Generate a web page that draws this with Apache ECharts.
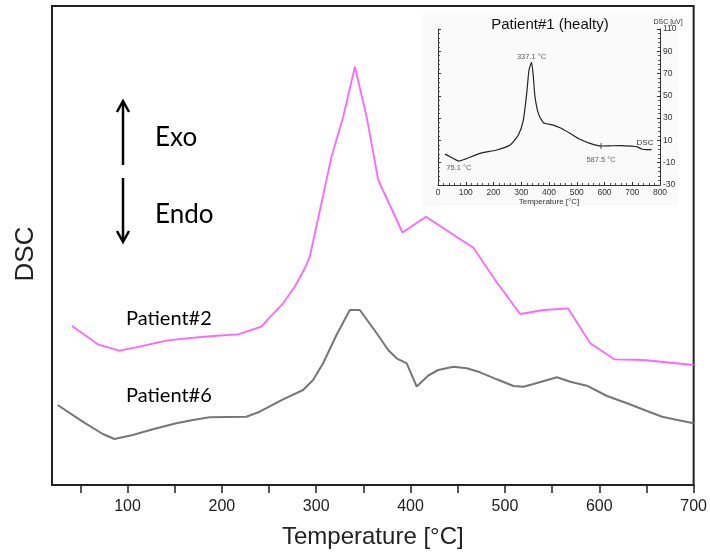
<!DOCTYPE html>
<html>
<head>
<meta charset="utf-8">
<script src="https://cdn.jsdelivr.net/npm/echarts@6/dist/echarts.min.js"></script>
<style>html,body{margin:0;padding:0;background:#fff}#c{width:710px;height:555px}</style>
</head>
<body>
<div id="c"></div>
<script>
// Main chart: Patient#2 (pink) and Patient#6 (gray), arbitrary DSC units
const p2Temp = [41, 68.5, 91.5, 112.7, 141.1, 162.3, 190.6, 217.1, 241.9, 250.7, 264.9, 277.3, 287.9, 293.2, 316.2, 328.6, 341.0, 353.4, 365.7, 391.4, 416.3, 466.6, 489.6, 516.1, 540.9, 566.8, 590.4, 615.9, 647.0, 700];
const p2Val  = [159.3, 140.7, 134.3, 138.3, 144.3, 146.7, 149, 150.7, 158.3, 167.7, 181.7, 198.3, 216.7, 228.3, 328.3, 368.3, 418.3, 368.3, 305, 252.5, 268.3, 237.3, 205, 171, 175, 176.7, 141.7, 125.7, 125, 120];
const p6Temp = [26.0, 52.5, 73.8, 86.2, 105.6, 126.9, 151.7, 169.3, 187.0, 226.0, 240.1, 264.9, 286.1, 296.7, 307.3, 321.5, 335.6, 346.2, 360.4, 376.3, 385.2, 395.9, 406.5, 418.8, 429.4, 445.3, 459.6, 473.7, 491.4, 509.0, 519.6, 530.3, 555.1, 569.2, 586.9, 608.2, 629.4, 650.6, 666.6, 679.0, 700];
const p6Val  = [80, 63.3, 51, 46, 50, 55.7, 61.7, 65, 67.7, 68.3, 73.3, 85.7, 95, 105, 121.7, 150, 175, 175, 156.7, 135, 126.7, 121.7, 98.5, 109.5, 115, 118.3, 116.7, 112.7, 105.7, 99, 98.3, 101, 107.7, 103.3, 99.3, 89, 81.7, 74, 68.3, 65.7, 61.7];
const mainTicks = [50, 100, 150, 200, 250, 300, 350, 400, 450, 500, 550, 600, 650, 700];
const mainLabels = [100, 200, 300, 400, 500, 600, 700];

// Inset: Patient#1 (healty), DSC in uV
const p1Temp = [25, 31, 50, 75.1, 100, 151, 211.5, 259.5, 289.5, 307.5, 319.7, 328, 337.1, 343.5, 349.5, 361.6, 379.6, 415.6, 439.6, 475.7, 511.7, 547.7, 587.5, 620, 660, 700, 716, 734, 750, 770];
const p1Val  = [-2.5, -3, -5.5, -8.5, -6.5, -1.6, 1.4, 5.9, 14.9, 28.3, 52.3, 73.2, 80, 67.2, 49.3, 34.3, 25.9, 23.8, 21.4, 16.4, 11, 7.4, 5, 5.2, 5.4, 4.8, 4.4, 2.3, 1.8, 1.8];
const p1Marks = [[75.1, -8.5], [337.1, 80], [587.5, 5]];
const p1MarkText = ['75.1 °C', '337.1 °C', '587.5 °C'];

const zip = (a, b) => a.map((v, i) => [v, b[i]]);

const chart = echarts.init(document.getElementById('c'), null, {renderer: 'canvas'});
const sans = 'Liberation Sans, Arial, sans-serif';

chart.setOption({
  animation: false,
  backgroundColor: '#fff',
  grid: [
    {left: 52, right: 16, top: 6, bottom: 70, show: true, borderColor: '#222', borderWidth: 2, backgroundColor: 'transparent', z: 2},
    {left: 438, right: 50, top: 29, bottom: 370}
  ],
  xAxis: [
    {
      type: 'value', gridIndex: 0, min: 20, max: 700,
      axisLine: {onZero: false, lineStyle: {color: '#222', width: 2}},
      axisTick: {show: true, customValues: mainTicks, length: 8, lineStyle: {color: '#222', width: 1.5}},
      axisLabel: {customValues: mainLabels, fontSize: 16, color: '#222', fontFamily: sans, margin: 14},
      splitLine: {show: false},
      name: 'Temperature [°C]', nameLocation: 'middle', nameGap: 40,
      nameTextStyle: {fontSize: 24, color: '#222', fontFamily: sans}
    },
    {
      type: 'value', gridIndex: 1, min: 0, max: 800, interval: 100,
      axisLine: {onZero: false, lineStyle: {color: '#333', width: 1}},
      axisTick: {inside: true, length: 3, lineStyle: {color: '#333'}},
      minorTick: {show: true, splitNumber: 5, length: 2, lineStyle: {color: '#555'}},
      axisLabel: {fontSize: 8.5, color: '#333', fontFamily: sans, margin: 3},
      splitLine: {show: false},
      name: 'Temperature [°C]', nameLocation: 'middle', nameGap: 13,
      nameTextStyle: {fontSize: 8, color: '#333', fontFamily: sans}
    }
  ],
  yAxis: [
    {
      type: 'value', gridIndex: 0, min: 0, max: 479,
      axisLine: {show: true, onZero: false, lineStyle: {color: '#222', width: 2}},
      axisTick: {show: false}, axisLabel: {show: false}, splitLine: {show: false}
    },
    {
      type: 'value', gridIndex: 1, position: 'right', min: -30, max: 110, interval: 20,
      axisLine: {show: true, onZero: false, lineStyle: {color: '#333', width: 1}},
      axisTick: {inside: true, length: 3, lineStyle: {color: '#333'}},
      minorTick: {show: true, splitNumber: 5, length: 2, lineStyle: {color: '#555'}},
      axisLabel: {fontSize: 8.5, color: '#333', fontFamily: sans, margin: 3},
      splitLine: {show: false}
    },
    {
      type: 'value', gridIndex: 1, position: 'left', min: -30, max: 110, interval: 20,
      axisLine: {show: true, onZero: false, lineStyle: {color: '#333', width: 1}},
      axisTick: {inside: true, length: 3, lineStyle: {color: '#333'}},
      minorTick: {show: true, splitNumber: 5, length: 2, lineStyle: {color: '#555'}},
      axisLabel: {show: false}, splitLine: {show: false}
    }
  ],
  graphic: [
    {type: 'rect', z: -10, shape: {x: 422, y: 13, width: 256, height: 193}, style: {fill: '#fafafa'}},
    {type: 'text', rotation: Math.PI / 2, x: 26, y: 254, style: {text: 'DSC', x: 0, y: 0, font: '26px "Liberation Sans"', fill: '#222', align: 'center', verticalAlign: 'middle'}},
    {type: 'line', shape: {x1: 123, y1: 165, x2: 123, y2: 103}, style: {stroke: '#000', lineWidth: 2.5}},
    {type: 'polyline', shape: {points: [[117, 112], [123, 101], [129, 112]]}, style: {stroke: '#000', lineWidth: 2.5, fill: null}},
    {type: 'line', shape: {x1: 123, y1: 178, x2: 123, y2: 240}, style: {stroke: '#000', lineWidth: 2.5}},
    {type: 'polyline', shape: {points: [[117, 231], [123, 242], [129, 231]]}, style: {stroke: '#000', lineWidth: 2.5, fill: null}},
    {type: 'text', style: {text: 'Exo', x: 155, y: 138, font: '26px Lato', fill: '#000', verticalAlign: 'middle'}},
    {type: 'text', style: {text: 'Endo', x: 155, y: 215, font: '26px Lato', fill: '#000', verticalAlign: 'middle'}},
    {type: 'text', style: {text: 'Patient#2', x: 126, y: 319, font: '20px Lato', fill: '#000', verticalAlign: 'middle'}},
    {type: 'text', style: {text: 'Patient#6', x: 126, y: 396, font: '20px Lato', fill: '#000', verticalAlign: 'middle'}},
    {type: 'text', style: {text: 'Patient#1 (healty)', x: 550, y: 25, font: '15px "Liberation Sans"', fill: '#111', align: 'center', verticalAlign: 'middle'}},
    {type: 'text', style: {text: 'DSC [uV]', x: 668, y: 22, font: '7px "Liberation Sans"', fill: '#333', align: 'center', verticalAlign: 'middle'}},
    {type: 'text', style: {text: 'DSC', x: 645, y: 143, font: '8px "Liberation Sans"', fill: '#333', align: 'center', verticalAlign: 'middle'}}
  ],
  series: [
    {
      name: 'Patient#2', type: 'line', xAxisIndex: 0, yAxisIndex: 0, data: zip(p2Temp, p2Val),
      showSymbol: false, lineStyle: {color: '#ff66ff', width: 1.8}, itemStyle: {color: '#ff66ff'}, z: 3
    },
    {
      name: 'Patient#6', type: 'line', xAxisIndex: 0, yAxisIndex: 0, data: zip(p6Temp, p6Val),
      showSymbol: false, lineStyle: {color: '#777', width: 2}, itemStyle: {color: '#777'}, z: 3
    },
    {
      name: 'Patient#1', type: 'line', xAxisIndex: 1, yAxisIndex: 1, data: zip(p1Temp, p1Val),
      showSymbol: false, smooth: 0.2, lineStyle: {color: '#222', width: 1.2}, itemStyle: {color: '#222'}
    },
    {
      name: 'marks', type: 'scatter', xAxisIndex: 1, yAxisIndex: 1,
      data: p1Marks.map((d, i) => ({
        value: d, name: p1MarkText[i],
        label: i === 1 ? {position: 'top', distance: 1} : {position: 'bottom', distance: i === 0 ? 3 : 7}
      })),
      symbol: 'rect', symbolSize: (v, p) => p.dataIndex === 2 ? [1, 6] : [0, 0],
      itemStyle: {color: '#222'},
      label: {show: true, formatter: p => p.name, fontSize: 7.5, color: '#333', fontFamily: sans},
      emphasis: {disabled: true}
    }
  ]
});
</script>
</body>
</html>
